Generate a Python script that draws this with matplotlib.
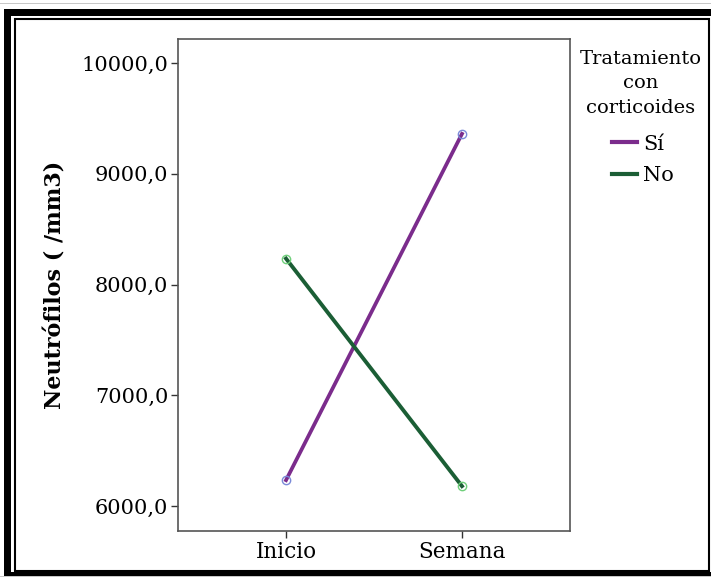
import matplotlib
matplotlib.use("Agg")
import matplotlib.pyplot as plt
from matplotlib.patches import Rectangle
from matplotlib.lines import Line2D

# Data
categories = ["Inicio", "Semana"]
series_names = ["Sí", "No"]
si_values = [6234, 9360]
no_values = [8234, 6180]
y_ticks = [6000, 7000, 8000, 9000, 10000]
y_tick_labels = ["6000,0", "7000,0", "8000,0", "9000,0", "10000,0"]
legend_title = "Tratamiento\ncon\ncorticoides"

plt.rcParams['font.family'] = ['DejaVu Serif']

W, H = 711, 577
fig = plt.figure(figsize=(W / 100, H / 100), dpi=100)

# Frame drawn in pixel coordinates
bg = fig.add_axes([0, 0, 1, 1], zorder=0)
bg.set_xlim(0, W)
bg.set_ylim(H, 0)
bg.axis("off")
bg.add_patch(Rectangle((0, 2.5), W, 1, color="#c8c8c8", lw=0))
bg.add_patch(Rectangle((4, 9), 7, 567, color="black", lw=0))
bg.add_patch(Rectangle((4, 9), W, 7, color="black", lw=0))
bg.add_patch(Rectangle((4, 572), W, 4, color="black", lw=0))
bg.add_patch(Rectangle((0, 576), W, 1, color="#c8c8c8", lw=0))
bg.add_patch(Rectangle((14.5, 18.5), 694.5, 552, fill=False, ec="black", lw=1.5))

colors = ["#7b2c8c", "#1b5e35"]
ax = fig.add_axes([178 / W, 1 - 531 / H, (570 - 178) / W, (531 - 39) / H], zorder=1)
x = list(range(len(categories)))
ax.plot(x, si_values, color=colors[0], lw=2.7, zorder=3,
        marker="o", ms=6, mfc="none", mec="#7a8ad8", mew=1.0)
ax.plot(x, no_values, color=colors[1], lw=2.8, zorder=3,
        marker="o", ms=6, mfc="none", mec="#6fcf7a", mew=1.0)

ax.set_xlim(-0.614, 1.614)
ax.set_ylim(5775, 10216)
ax.set_xticks(x)
ax.set_xticklabels(categories, fontsize=15.5)
ax.set_yticks(y_ticks)
ax.set_yticklabels(y_tick_labels, fontsize=15)
ax.tick_params(direction="out", length=5, width=1, color="#333333", pad=2)
for s in ax.spines.values():
    s.set_color("#555555")
    s.set_linewidth(1.2)
ax.set_ylabel("Neutrófilos ( /mm3)", fontsize=16, fontweight="bold", labelpad=11)

# Legend title as separate text
fig.text(641 / W, 1 - 50 / H, legend_title, ha="center", va="top",
         fontsize=14, linespacing=1.45, multialignment="center")

handles = [Line2D([], [], color=c, lw=3) for c in colors]
leg = fig.legend(handles=handles, labels=series_names,
                 loc="upper center", bbox_to_anchor=(643 / W, 1 - 116 / H),
                 frameon=False, fontsize=15,
                 handlelength=1.2, handletextpad=0.3, labelspacing=0.6)

fig.savefig("out.png", dpi=100)
